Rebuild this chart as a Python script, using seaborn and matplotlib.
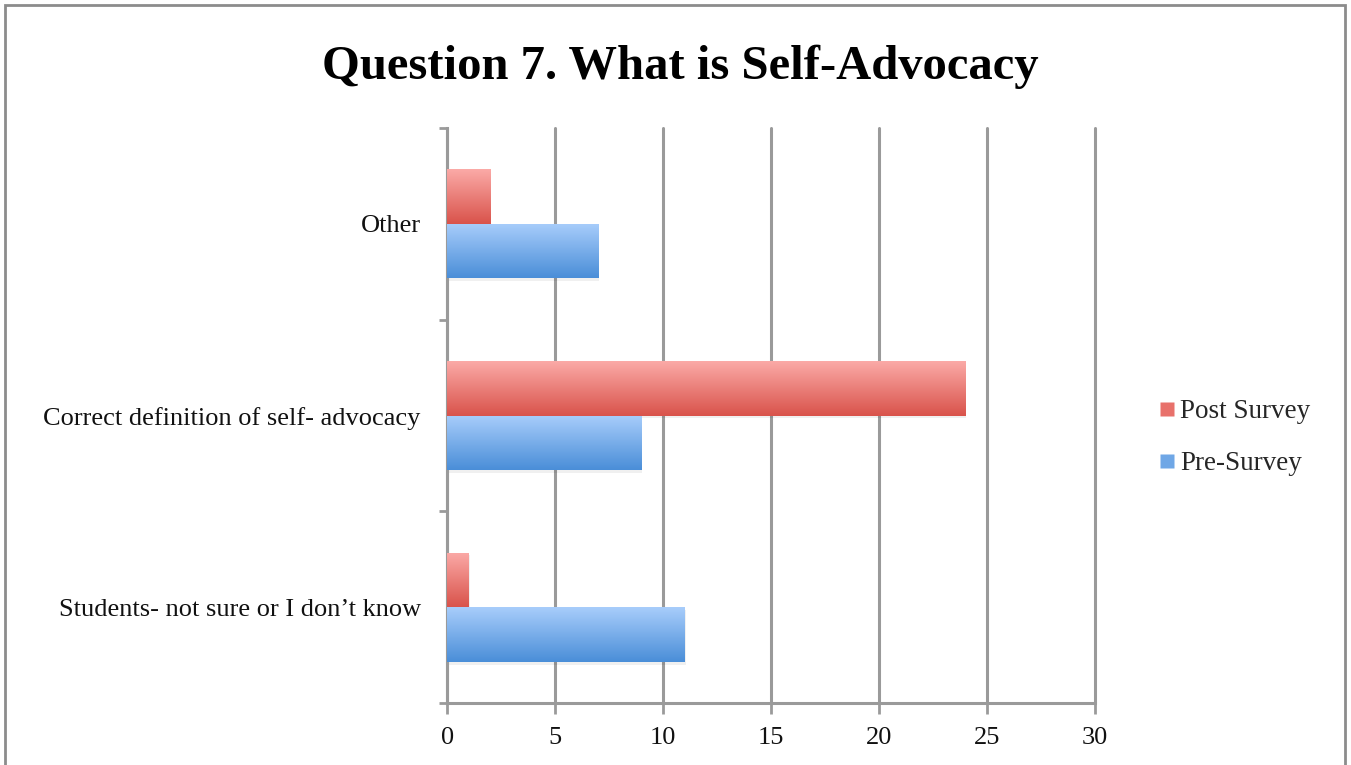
import numpy as np
import pandas as pd
import matplotlib
matplotlib.use("Agg")
import matplotlib.pyplot as plt
import seaborn as sns
from matplotlib.colors import LinearSegmentedColormap
from matplotlib.patches import Rectangle
from matplotlib.lines import Line2D

# Survey answers for question 7
categories = ["Other", "Correct definition of self- advocacy", "Students- not sure or I don\u2019t know"]
post_survey = [2, 24, 1]
pre_survey = [7, 9, 11]
series_names = ["Post Survey", "Pre-Survey"]
x_ticks = [0, 5, 10, 15, 20, 25, 30]

df = pd.DataFrame({
    "category": categories * 2,
    "count": post_survey + pre_survey,
    "survey": [series_names[0]] * 3 + [series_names[1]] * 3,
})

sns.set_theme(style="white")
plt.rcParams["font.family"] = ["Liberation Serif", "DejaVu Serif"]

fig = plt.figure(figsize=(13.51, 7.65), dpi=100)
ax = fig.add_axes([0.331, 0.081, 0.4795, 0.7517])

base_colors = {"Post Survey": "#E8716B", "Pre-Survey": "#6FA7E6"}
grad = {
    "Post Survey": ("#FBAAA7", "#D9534B"),
    "Pre-Survey": ("#A8CDFB", "#4A8ED8"),
}

sns.barplot(data=df, y="category", x="count", hue="survey", order=categories,
            hue_order=series_names, palette=base_colors, width=0.57,
            orient="h", ax=ax, legend=False, saturation=1)

ax.set_xlim(0, 30)
ax.set_ylim(2.5, -0.5)

# gradient fill for every bar, with a soft drop shadow
n = len(categories)
for i, patch in enumerate(list(ax.patches)):
    name = series_names[i // n]
    x0, y0 = patch.get_x(), patch.get_y()
    w, h = patch.get_width(), patch.get_height()
    if w <= 0:
        continue
    shadow = Rectangle((x0 + 0.04, y0 + 0.015), w, h, facecolor="#000000",
                       alpha=0.06, edgecolor="none", zorder=2)
    ax.add_patch(shadow)
    cmap = LinearSegmentedColormap.from_list(name, list(grad[name]))
    g = np.linspace(0, 1, 128).reshape(-1, 1)
    im = ax.imshow(g, cmap=cmap, aspect="auto", extent=(x0, x0 + w, y0 + h, y0),
                   zorder=3, interpolation="bilinear")
    im.set_clip_path(patch)
    patch.set_zorder(3)
    patch.set_facecolor("none")
    patch.set_edgecolor("none")

ax.set_xlim(0, 30)
ax.set_ylim(2.5, -0.5)

# axes styling
ax.set_xticks(x_ticks)
ax.set_xticklabels([str(t) for t in x_ticks])
ax.xaxis.grid(True, color="#9A9A9A", linewidth=2.2, zorder=0)
for gl in ax.get_xgridlines():
    gl.set_clip_on(False)
ax.set_axisbelow(True)
for s in ["top", "right"]:
    ax.spines[s].set_visible(False)
for s in ["left", "bottom"]:
    ax.spines[s].set_color("#9A9A9A")
    ax.spines[s].set_linewidth(2.2)

ax.set_yticks(range(n))
ax.set_yticklabels(categories)
ax.set_yticks([-0.5, 0.5, 1.5, 2.5], minor=True)
ax.tick_params(axis="y", which="major", length=0, pad=19, labelsize=19, labelcolor="#111111")
ax.tick_params(axis="y", which="minor", length=6, width=2, color="#9A9A9A", direction="out", left=True)
ax.tick_params(axis="x", length=8, width=2, color="#9A9A9A", direction="out", bottom=True,
               pad=9, labelsize=19, labelcolor="#111111")
ax.set_xlabel("")
ax.set_ylabel("")

fig.text(0.5035, 0.913, "Question 7. What is Self-Advocacy", ha="center", va="center",
         fontsize=35, fontweight="bold", color="#000000")

handles = [Line2D([0], [0], marker="s", linestyle="none", markersize=10,
                  markerfacecolor=base_colors[s], markeredgecolor="none") for s in series_names]
fig.legend(handles, series_names, loc="center left", bbox_to_anchor=(0.8375, 0.428),
           frameon=False, fontsize=19.5, handletextpad=0.1, labelspacing=1.0,
           handlelength=0.8)

# outer frame
fig.patches.append(Rectangle((5 / 1351, -0.01), 1340 / 1351, 1 - 5 / 765 + 0.01,
                             transform=fig.transFigure, fill=False,
                             edgecolor="#8C8C8C", linewidth=2))

fig.savefig("out.png", dpi=100)
